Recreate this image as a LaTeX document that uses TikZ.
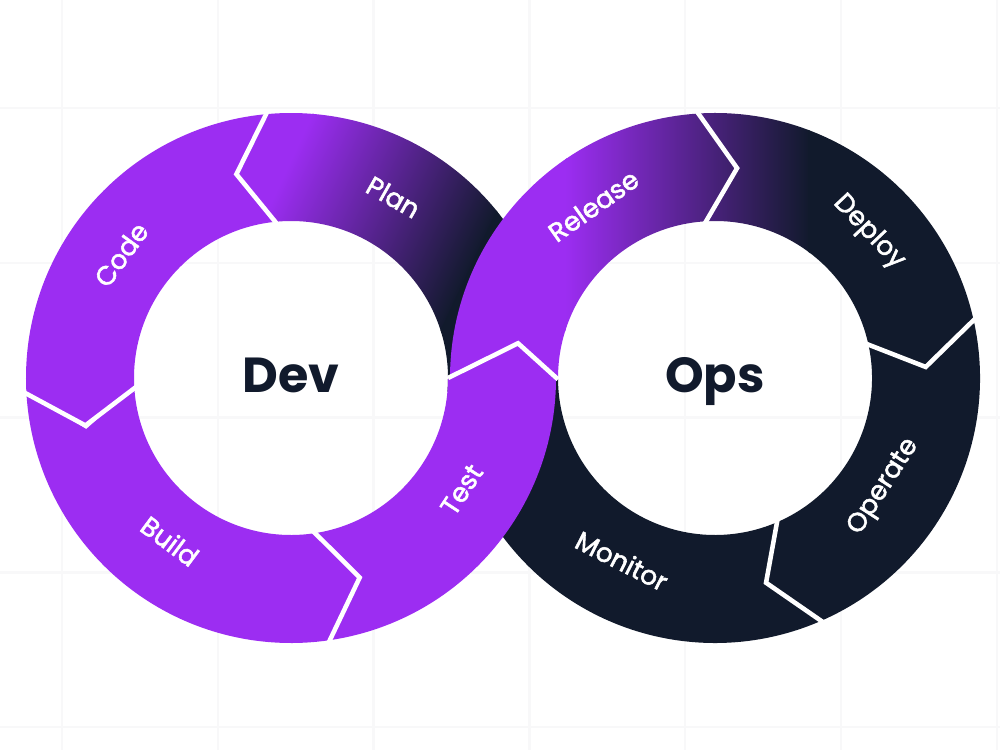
\documentclass[tikz,border=0pt]{standalone}
\usepackage{fontspec}
\setmainfont{Poppins}
\newfontfamily\popmed{Poppins}[FakeBold=2]

\definecolor{devpurple}{HTML}{9C2DF2}
\definecolor{opsnavy}{HTML}{111A2C}
\definecolor{gridgray}{HTML}{F8F8F9}

\newcommand\ringout{2.65}
\newcommand\ringin{1.57}
\newcommand\ringmid{2.11}
% arrow shaped piece of a ring from angle #1 to #2, tips bent by #3 degrees
\newcommand\ringseg[3]{(#1:\ringout) arc[start angle=#1,end angle=#2,radius=\ringout] -- ({#2+#3}:\ringmid) -- (#2:\ringin) arc[start angle=#2,end angle=#1,radius=\ringin] -- ({#1+#3}:\ringmid) -- cycle}
% purple to navy, left to right from x=#1 to x=#2
\newcommand\devopsfill[2]{%
  \fill[devpurple] (-2,-3) rectangle ({#1+0.02},11);
  \shade[left color=devpurple,right color=opsnavy] (#1,-3) rectangle (#2,11);
  \fill[opsnavy] ({#2-0.02},-3) rectangle (13,11);}

\tikzset{
  sep/.style={white,line width=1.3pt,line join=miter},
  lbl/.style={text=white,font=\popmed\fontsize{7.5}{9}\selectfont},
  hub/.style={text=opsnavy,font=\bfseries\fontsize{14}{16}\selectfont,anchor=base},
  gridline/.style={gridgray,line width=0.7pt}
}

\begin{document}
\begin{tikzpicture}
\useasboundingbox[fill=white] (0,0) rectangle (10,7.5);
\foreach \k in {0,...,6} \draw[gridline] ({0.62+1.558*\k},0) -- ++(0,7.5);
\foreach \k in {0,...,4} \draw[gridline] (0,{6.42-1.548*\k}) -- ++(10,0);

\coordinate (dev) at (2.91,3.72);
\coordinate (ops) at (7.15,3.72);
\path (ops) ++(170:2.0) coordinate (T);

% plan, partly under release
\begin{scope}
  \clip[shift={(dev)}] \ringseg{-5}{95}{10};
  \begin{scope}[transform canvas={rotate around={-25:(3.7,5)}}]
    \devopsfill{2.6}{4.7}
  \end{scope}
\end{scope}
% monitor, partly under test
\fill[opsnavy,shift={(ops)}] \ringseg{-66}{-180}{-10};
\fill[devpurple,shift={(dev)}] \ringseg{95}{183}{10};  % code
\fill[devpurple,shift={(dev)}] \ringseg{183}{278}{11}; % build
\fill[opsnavy,shift={(ops)}] \ringseg{13}{-66}{-10};   % operate
% deploy
\begin{scope}
  \clip[shift={(ops)}] \ringseg{94}{13}{-10};
  \devopsfill{5.65}{8.1}
\end{scope}
% release
\begin{scope}
  \clip[shift={(ops)}] (180.5:\ringout) arc[start angle=180.5,end angle=94,radius=\ringout] -- (84:\ringmid) -- (94:\ringin) arc[start angle=94,end angle=180.5,radius=\ringin] -- (T) -- cycle;
  \devopsfill{5.65}{8.1}
\end{scope}
% test
\fill[devpurple,shift={(dev)}] (278:\ringout) arc[start angle=278,end angle=360,radius=\ringout] -- (T) -- (0:\ringin) arc[start angle=360,end angle=278,radius=\ringin] -- (289:\ringmid) -- cycle;

% white chevrons between the steps
\foreach \c/\a/\d in {dev/95/10,dev/183/10,dev/278/11,ops/94/-10,ops/13/-10,ops/-66/-10}
  \draw[sep,shift={(\c)}] (\a:{\ringout+0.03}) -- ({\a+\d}:\ringmid) -- (\a:{\ringin-0.03});
\draw[sep] ([shift={(0:\ringin)}]dev) -- (T) -- ([shift={(180.5:\ringin)}]ops);

\foreach \c/\a/\rad/\rot/\txt in {dev/144/2.10/54/Code,dev/60.5/2.08/-29.5/Plan,dev/233.4/2.03/-36.6/Build,dev/-33.2/2.04/56.8/Test,ops/125.2/2.11/35.2/Release,ops/43.5/2.12/-46.5/Deploy,ops/-32.8/2.01/57.2/Operate,ops/243/2.05/-27/Monitor}
  \node[lbl,rotate=\rot] (\txt) at ([shift={(\a:\rad)}]\c) {\txt};

\node[hub] (devtxt) at ([yshift=-0.14cm]dev) {Dev};
\node[hub] (opstxt) at ([yshift=-0.14cm]ops) {Ops};
\end{tikzpicture}
\end{document}
